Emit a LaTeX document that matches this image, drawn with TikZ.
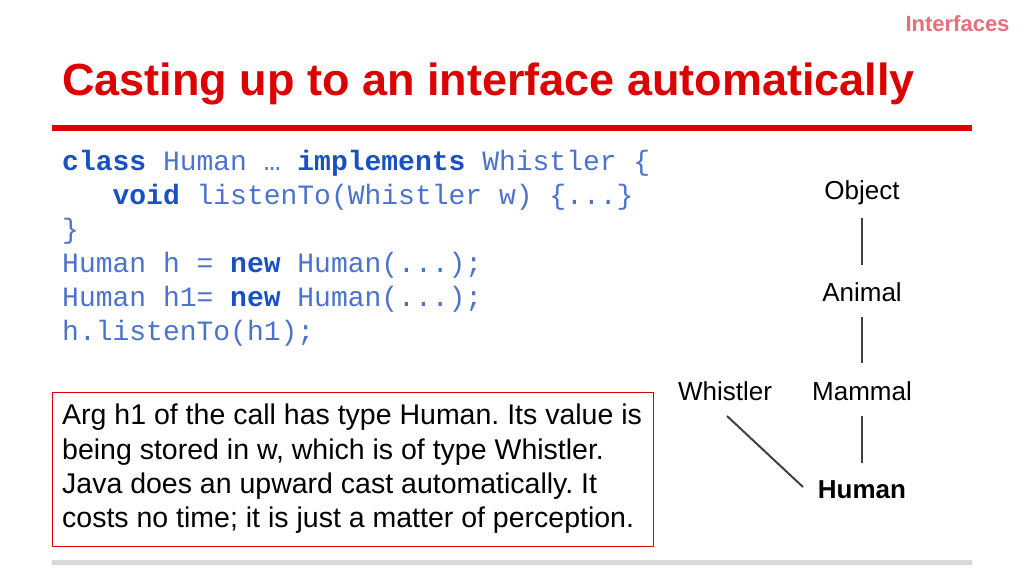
\documentclass[tikz,border=0pt]{standalone}
\usepackage{fontspec}
\setmainfont{Liberation Sans}
\setmonofont{Liberation Mono}
\definecolor{tred}{RGB}{220,0,0}
\definecolor{pinkred}{RGB}{232,110,125}
\definecolor{codeb}{RGB}{75,115,205}
\definecolor{keyb}{RGB}{25,80,195}
\frenchspacing
\begin{document}
\begin{tikzpicture}[x=1pt,y=1pt,
  code/.style={anchor=base west,inner sep=0,font=\fontsize{28}{30}\selectfont\ttfamily,text=codeb},
  lbl/.style={font=\fontsize{26}{30}\selectfont,inner sep=1pt},
  link/.style={line width=2pt,draw=black!75}]
\useasboundingbox (0,0) rectangle (1024,-576);
\node[anchor=east,text=pinkred,font=\fontsize{22}{24}\selectfont\bfseries] (hdr) at (1013,-24) {Interfaces};
\node[anchor=west,text=tred,font=\fontsize{45}{50}\selectfont\bfseries,inner sep=0] (title) at (62,-84) {Casting up to an interface automatically};
\draw[tred,line width=6pt] (52,-128) -- (972,-128);
\draw[black!15,line width=5pt] (52,-562) -- (972,-562);
\newcommand{\kw}[1]{\textbf{\color{keyb}#1}}
\node[code] (c1) at (62,-170) {\kw{class} Human … \kw{implements} Whistler \{};
\node[code] (c2) at (62,-204) {\phantom{xxx}\kw{void} listenTo(Whistler w) \{...\}};
\node[code] (c3) at (62,-238) {\}};
\node[code] (c4) at (62,-272) {Human h = \kw{new} Human(...);};
\node[code] (c5) at (62,-306) {Human h1= \kw{new} Human(...);};
\node[code] (c6) at (62,-340) {h.listenTo(h1);};
\draw[tred,line width=1pt] (52,-392) rectangle (653,-546);
\node[anchor=north west,align=left,inner sep=0,font=\fontsize{28.5}{34.3}\selectfont] (box) at (62,-404)
 {Arg h1 of the call has type Human. Its value is\\being stored in w, which is of type Whistler.\\Java does an upward cast automatically. It\\costs no time; it is just a matter of perception.};
\node[lbl] (obj) at (862,-193) {Object};
\node[lbl] (ani) at (862,-292) {Animal};
\node[lbl] (mam) at (862,-391) {Mammal};
\node[lbl,font=\fontsize{26}{30}\selectfont\bfseries] (hum) at (862,-490) {Human};
\node[lbl] (whi) at (725,-391) {Whistler};
\draw[link] (862,-218) -- (862,-265);
\draw[link] (862,-317) -- (862,-363);
\draw[link] (862,-416) -- (862,-463);
\draw[link] (727,-416) -- (803,-487);
\end{tikzpicture}
\end{document}
